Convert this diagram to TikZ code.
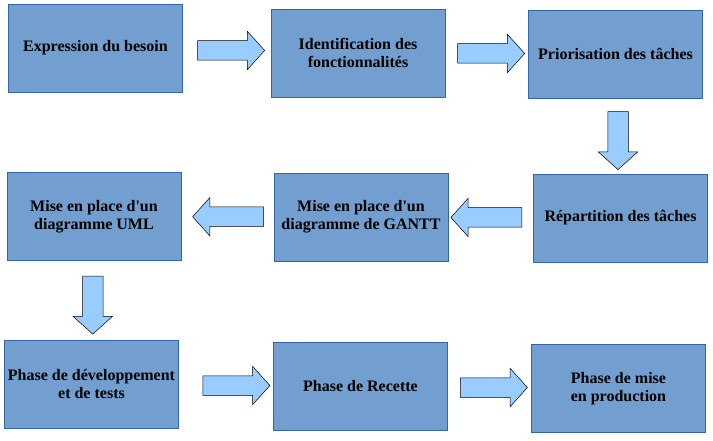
\documentclass[tikz,border=0pt]{standalone}
\usepackage{fontspec}
\setmainfont{Liberation Serif}
\usetikzlibrary{shapes.arrows, calc}

\definecolor{boxblue}{HTML}{729FCF}
\definecolor{boxedge}{HTML}{3465A4}
\definecolor{arrowblue}{HTML}{99CCFF}

\begin{document}
\begin{tikzpicture}[x=1pt, y=-1pt,
        stepbox/.style={draw=boxedge, fill=boxblue, line width=0.8pt,
            minimum width=174pt, minimum height=88pt, inner sep=0pt, align=center,
            font=\fontsize{16}{18}\selectfont\bfseries},
        blockarr/.style={single arrow, draw=black, fill=arrowblue, line width=0.5pt,
            inner xsep=0pt, inner ysep=9.5pt, single arrow head extend=9.5pt,
            single arrow tip angle=96, minimum height=67pt},
        downarr/.style={blockarr, inner xsep=10pt, inner ysep=0pt,
            minimum height=58pt, shape border rotate=270}]
        \useasboundingbox (0, 0) rectangle (713, 441);

        % first row
        \node[stepbox] (besoin) at (95.5, 48) {Expression du besoin};
        \node[stepbox] (fonct) at (358, 53) {Identification des\\fonctionnalités};
        \node[stepbox] (prio) at (615.5, 54) {Priorisation des tâches};

        % second row
        \node[stepbox] (repart) at (620.5, 218) {Répartition des tâches};
        \node[stepbox] (gantt) at (361, 217) {Mise en place d\textquotesingle un\\diagramme de GANTT};
        \node[stepbox] (uml) at (94, 216.5) {Mise en place d\textquotesingle un\\diagramme UML};

        % third row
        \node[stepbox] (dev) at (91.5, 384.5) {Phase de développement\\et de tests};
        \node[stepbox] (recette) at (360.5, 386.5) {Phase de Recette};
        \node[stepbox] (prod) at (618.5, 388.5) {Phase de mise\\en production};

        \node[blockarr] (a1) at ($(besoin.east)!0.5!(fonct.west)$) {};
        \node[blockarr] (a2) at ($(fonct.east)!0.5!(prio.west)$) {};
        \node[downarr] (a3) at ($(prio.south)!0.5!(repart.north)$) {};
        \node[blockarr, minimum height=71pt, shape border rotate=180]
            (a4) at ($(repart.west)!0.5!(gantt.east)$) {};
        \node[blockarr, minimum height=71pt, shape border rotate=180, xshift=5pt]
            (a5) at ($(gantt.west)!0.5!(uml.east)$) {};
        \node[downarr] (a6) at ($(uml.south)!0.5!(dev.north)$) {};
        \node[blockarr, xshift=6pt] (a7) at ($(dev.east)!0.5!(recette.west)$) {};
        \node[blockarr] (a8) at ($(recette.east)!0.5!(prod.west)$) {};
    \end{tikzpicture}
\end{document}
